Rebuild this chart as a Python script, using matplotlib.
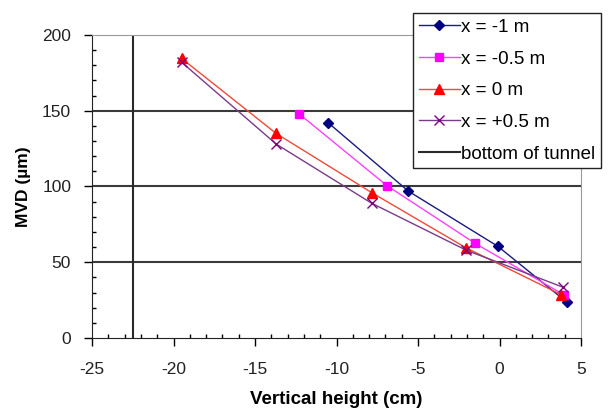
import matplotlib
matplotlib.use('Agg')
import matplotlib.pyplot as plt
from matplotlib.ticker import MultipleLocator

plt.rcParams['font.family'] = ['Liberation Sans', 'DejaVu Sans']
plt.rcParams['axes.unicode_minus'] = False

# MVD readings per vertical height, one list per lateral position
h_m1 = [-10.5, -5.6, -0.1, 4.15]
mvd_m1 = [142, 97, 60.5, 23.5]
h_m05 = [-12.3, -6.9, -1.5, 3.95]
mvd_m05 = [148, 100.5, 62.5, 28.5]
h_0 = [-19.5, -13.7, -7.85, -2.05, 3.8]
mvd_0 = [184.5, 135, 96, 59.5, 28.5]
h_p05 = [-19.5, -13.7, -7.85, -2.05, 3.9]
mvd_p05 = [182, 128, 89, 58, 33.5]

tunnel_x = [-22.5, -22.5]
tunnel_y = [0, 200]
grid_y = [50, 100, 150]

labels = ['x = -1 m', 'x = -0.5 m', 'x = 0 m', 'x = +0.5 m', 'bottom of tunnel']

fig = plt.figure(figsize=(6.15, 4.17), dpi=100)
ax = fig.add_axes([92 / 615, 1 - 338 / 417, (581 - 92) / 615, (338 - 35) / 417])

for g in grid_y:
    ax.axhline(g, color='#3a3a3a', lw=1.5, zorder=1)

l1, = ax.plot(h_m1, mvd_m1, color='#1a1a80', lw=1, marker='D', ms=5,
              mfc='#000080', mec='#000080', zorder=3)
l2, = ax.plot(h_m05, mvd_m05, color='#ff40ff', lw=1, marker='s', ms=6,
              mfc='#ff00ff', mec='#ff00ff', zorder=3)
l3, = ax.plot(h_0, mvd_0, color='#ee4a3a', lw=1, marker='^', ms=6.5,
              mfc='#ff0000', mec='#ff0000', zorder=3)
l4, = ax.plot(h_p05, mvd_p05, color='#7a3a8a', lw=1, marker='x', ms=6.5,
              mew=1, mfc='#800080', mec='#800080', zorder=3)
l5, = ax.plot(tunnel_x, tunnel_y, color='#2a2a2a', lw=1.5, zorder=2)

ax.set_xlim(-25, 5)
ax.set_ylim(0, 200)
ax.xaxis.set_major_locator(MultipleLocator(5))
ax.xaxis.set_minor_locator(MultipleLocator(1))
ax.yaxis.set_major_locator(MultipleLocator(50))
ax.yaxis.set_minor_locator(MultipleLocator(10))
ax.tick_params(which='major', direction='out', length=6, width=1,
               labelsize=12.5, labelcolor='#222222')
ax.tick_params(which='minor', direction='in', length=3, width=1)
ax.tick_params(axis='y', which='major', pad=9)
ax.tick_params(axis='x', which='major', pad=11)

ax.spines['left'].set_color('#222222')
ax.spines['bottom'].set_color('#222222')
ax.spines['top'].set_color('#9a9a9a')
ax.spines['right'].set_color('#9a9a9a')

ax.set_xlabel('Vertical height (cm)', fontsize=13.5, fontweight='bold', labelpad=10)
ax.set_ylabel('MVD (µm)', fontsize=12.5, fontweight='bold', labelpad=8)

leg = fig.legend([l1, l2, l3, l4, l5], labels, loc='upper left',
                 bbox_to_anchor=(413 / 615, 1 - 13 / 417), fontsize=13.5,
                 frameon=True, fancybox=False, framealpha=1, edgecolor='#222222',
                 handlelength=2.2, handletextpad=0.05, labelspacing=0.78,
                 borderpad=0.3, borderaxespad=0)
leg.get_frame().set_linewidth(1)

fig.savefig('out.png', dpi=100)
